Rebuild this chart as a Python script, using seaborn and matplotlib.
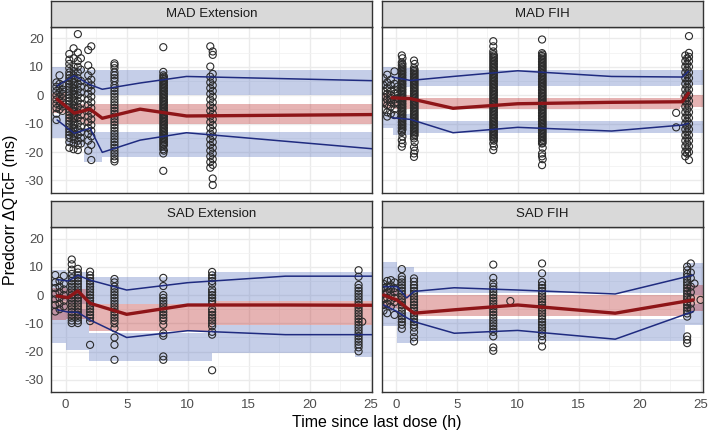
import numpy as np
import pandas as pd
import matplotlib
matplotlib.use("Agg")
import matplotlib.pyplot as plt
import seaborn as sns
from matplotlib.ticker import MultipleLocator

sns.set_theme(style="white")
plt.rcParams['font.family'] = ['Liberation Sans', 'DejaVu Sans']

panels = ["MAD Extension", "MAD FIH", "SAD Extension", "SAD FIH"]
x_ticks = [0, 5, 10, 15, 20, 25]
y_ticks = [-30, -20, -10, 0, 10, 20]

# ---------------- observed data: (time, [values]) per column ----------------
mad_ext_obs = [
    (-0.75, [4.5, 3.0, 1.5, 0.0, -1.5, -3.0, -4.5, -6.5, -8.7]),
    (-0.5, [7.0, 4.0, 2.5, 1.0, -0.5, -2.0, -3.5, -5.0]),
    (-0.25, [3.5, 2.0, 0.5, -1.0, -2.5, -4.0, -5.5]),
    (0.3, [14.5, 12.5, 11.0, 9.5, 8.0, 7.0, 6.0, 5.0, 4.0, 3.0, 2.0, 1.0, 0.0, -1.0, -2.0, -3.0, -4.0, -5.0,
           -6.0, -7.0, -8.0, -9.0, -10.0, -11.0, -12.0, -13.0, -14.0, -15.0, -16.5, -18.5]),
    (0.65, [16.5, 13.0, 10.0, 8.5, 7.0, 5.5, 4.5, 3.5, 2.5, 1.5, 0.5, -0.5, -1.5, -2.5, -3.5, -4.5, -5.5, -6.5,
            -7.5, -8.5, -9.5, -10.5, -11.5, -12.5, -13.5, -14.5, -15.5, -17.0, -19.0]),
    (1.0, [21.5, 15.0, 12.0, 10.0, 8.0, 6.0, 4.0, 2.0, 0.0, -2.0, -4.0, -6.0, -8.0, -10.0, -12.0, -14.0, -16.0,
           -17.5, -19.3]),
    (1.25, [13.0, 9.0, 5.0, 3.0, 1.0, -1.0, -3.0, -5.0, -7.0, -9.0, -11.0, -13.0, -15.0, -17.0]),
    (1.85, [15.9, 10.5, 7.0, 4.5, 2.5, 0.5, -1.5, -3.5, -5.5, -7.5, -9.5, -11.5, -13.5, -16.0, -19.5]),
    (2.1, [17.2, 8.5, 5.5, 3.5, 1.5, -0.5, -2.5, -4.5, -6.5, -8.5, -10.5, -12.5, -14.5, -17.5, -22.8]),
    (4.0, [11.2, 10.5, 9.5, 8.0, 7.0, 6.0, 5.0, 3.5, 2.5, 1.5, 0.5, -0.5, -1.5, -2.5, -3.5, -4.5, -5.5, -6.5,
           -7.5, -8.5, -9.5, -10.5, -11.5, -12.5, -13.5, -14.5, -15.5, -16.5, -17.5, -18.5, -19.5, -20.5,
           -21.5, -22.5, -23.3]),
    (8.0, [16.9, 8.2, 7.0, 6.0, 5.0, 4.0, 3.0, 2.0, 1.0, 0.0, -1.0, -2.0, -3.0, -4.0, -5.0, -6.0, -7.0, -8.0,
           -9.0, -10.0, -11.0, -12.0, -13.0, -14.0, -15.0, -16.0, -17.0, -18.0, -19.0, -20.5, -26.6]),
    (8.05, [6.5, 5.5, 4.5, 3.5, 2.5, 1.5, 0.5, -0.5, -1.5, -2.5, -3.5, -4.5, -5.5, -6.5, -7.5, -8.5, -9.5,
            -10.5, -11.5, -12.5, -13.5, -14.5, -15.5, -16.5, -17.5, -19.5]),
    (11.85, [17.2, 10.1, 6.5, 4.5, 2.5, 0.5, -1.5, -3.5, -5.5, -7.5, -9.5, -11.5, -13.5, -15.5, -17.5, -19.5,
             -21.5, -23.5, -25.5]),
    (12.05, [15.4, 14.2, 7.5, 5.5, 3.5, 1.5, -0.5, -2.5, -4.5, -6.5, -8.5, -10.5, -12.5, -14.5, -16.5, -18.5,
             -20.5, -22.5, -24.5, -29.3, -31.6]),
]
mad_fih_obs = [
    (-1.0, [6.0, 3.5, 1.5, -0.5, -2.5, -5.0]),
    (-0.7, [7.2, 4.5, 2.5, 0.5, -1.5, -3.5, -6.0, -7.5]),
    (-0.4, [5.5, 3.5, 1.5, 0.0, -1.0, -2.5, -4.0, -6.5]),
    (-0.1, [8.4, 4.0, 2.0, 0.5, -1.5, -3.0, -5.0, -7.0]),
    (0.15, [3.0, 1.0, -1.0, -2.5]),
    (0.5, [14.0, 11.5, 10.5, 9.5, 8.5, 7.5, 6.5, 5.5, 4.5, 3.5, 2.5, 1.5, 0.5, -0.5, -1.5, -2.5, -3.5, -4.5,
           -5.5, -6.5, -7.5, -8.5, -9.5, -10.5, -11.5, -12.5, -13.0, -15.8, -18.1]),
    (0.55, [13.0, 11.0, 10.0, 9.0, 8.0, 7.0, 6.0, 5.0, 4.0, 3.0, 2.0, 1.0, 0.0, -1.0, -2.0, -3.0, -4.0, -5.0,
            -6.0, -7.0, -8.0, -9.0, -10.0, -11.0, -12.0, -14.5, -17.0]),
    (1.5, [12.2, 9.6, 8.5, 7.5, 6.5, 5.5, 4.5, 3.5, 2.5, 1.5, 0.5, -0.5, -1.5, -2.5, -3.5, -4.5, -5.5, -6.5,
           -7.5, -8.5, -9.5, -10.5, -11.5, -12.5, -13.5, -14.5, -15.2, -18.3, -20.5, -21.7]),
    (1.55, [11.0, 9.0, 8.0, 7.0, 6.0, 5.0, 4.0, 3.0, 2.0, 1.0, 0.0, -1.0, -2.0, -3.0, -4.0, -5.0, -6.0, -7.0,
            -8.0, -9.0, -10.0, -11.0, -12.0, -13.0, -14.0, -16.5, -19.5]),
    (8.0, [19.0, 17.2, 15.4, 14.5, 13.5, 12.5, 11.5, 10.5, 9.5, 8.5, 7.5, 6.5, 5.5, 4.5, 3.5, 2.5, 1.5, 0.5,
           -0.5, -1.5, -2.5, -3.5, -4.5, -5.5, -6.5, -7.5, -8.5, -9.5, -10.5, -11.5, -12.5, -13.5, -14.5,
           -15.5, -17.0, -19.3]),
    (8.05, [14.0, 13.0, 12.0, 11.0, 10.0, 9.0, 8.0, 7.0, 6.0, 5.0, 4.0, 3.0, 2.0, 1.0, 0.0, -1.0, -2.0, -3.0,
            -4.0, -5.0, -6.0, -7.0, -8.0, -9.0, -10.0, -11.0, -12.0, -13.0, -14.0, -15.0, -16.0, -18.0]),
    (12.0, [19.6, 14.8, 13.8, 12.8, 11.8, 10.8, 9.8, 8.8, 7.8, 6.8, 5.8, 4.8, 3.8, 2.8, 1.8, 0.8, -0.2, -1.2,
            -2.2, -3.2, -4.2, -5.2, -6.2, -7.2, -8.2, -9.2, -10.2, -11.2, -12.2, -13.2, -14.2, -15.2, -16.2,
            -17.0, -20.5, -21.5, -24.6]),
    (12.05, [14.3, 13.3, 12.3, 11.3, 10.3, 9.3, 8.3, 7.3, 6.3, 5.3, 4.3, 3.3, 2.3, 1.3, 0.3, -0.7, -1.7, -2.7,
             -3.7, -4.7, -5.7, -6.7, -7.7, -8.7, -9.7, -10.7, -11.7, -12.7, -13.7, -14.7, -15.7, -16.7,
             -18.5, -22.5]),
    (23.0, [-6.2, -11.3]),
    (23.75, [14.0, 12.0, 10.0, 8.0, 6.0, 4.0, 2.0, 0.0, -2.0, -4.0, -6.0, -8.0, -10.0, -12.0, -14.0, -16.0,
             -18.0, -20.0, -21.5]),
    (23.9, [13.0, 11.0, 9.0, 7.0, 5.0, 3.0, 1.0, -1.0, -3.0, -5.0, -7.0, -9.0, -11.0, -13.0, -15.0, -17.0,
            -19.0, -20.5]),
    (24.05, [20.8, 14.9, 13.5, 12.0, 10.0, 8.0, 6.0, 4.0, 2.0, 0.0, -2.0, -4.0, -6.0, -8.0, -10.0, -12.0,
             -14.0, -16.0, -18.0, -20.0, -22.8]),
]
sad_ext_obs = [
    (-0.85, [7.1, 4.5, 2.5, 0.5, -1.5, -3.5, -5.8]),
    (-0.5, [5.0, 3.0, 1.0, -1.0, -3.0, -5.0]),
    (-0.15, [6.8, 4.0, 2.0, 0.0, -2.0, -4.0]),
    (0.5, [12.6, 10.9, 9.0, 7.5, 6.0, 5.0, 4.0, 3.0, 2.0, 1.0, 0.0, -1.0, -2.0, -3.0, -4.0, -5.0, -6.0, -7.0,
           -8.0, -9.0, -9.9]),
    (1.0, [9.3, 8.0, 7.0, 6.0, 5.0, 4.0, 3.0, 2.0, 1.0, 0.0, -1.0, -2.0, -3.0, -4.0, -5.0, -6.0, -7.0, -8.0,
           -9.0, -9.9]),
    (2.0, [8.3, 7.0, 6.0, 5.0, 4.0, 3.0, 2.0, 1.0, 0.0, -1.0, -2.0, -3.0, -4.0, -5.0, -6.0, -7.0, -8.0, -9.2,
           -17.6]),
    (4.0, [5.7, 4.5, 3.0, 2.0, 1.0, 0.0, -1.0, -2.0, -3.0, -4.0, -5.0, -6.0, -7.0, -8.0, -9.0, -10.0, -11.7,
           -15.0, -17.6, -22.9]),
    (8.0, [6.1, 3.2, 0.0, -1.0, -2.0, -3.0, -4.0, -5.0, -6.0, -7.0, -8.0, -9.0, -10.5, -13.5, -14.4, -21.7,
           -22.9]),
    (12.0, [8.2, 7.0, 6.0, 5.0, 4.0, 2.0, 1.0, 0.0, -1.0, -2.0, -3.0, -5.0, -6.0, -7.0, -8.0, -9.0, -10.0,
            -11.0, -13.0, -14.0, -26.6]),
    (24.0, [8.8, 6.5, 3.6, 2.5, 1.5, 0.5, -0.5, -1.5, -2.5, -3.5, -4.5, -5.5, -6.5, -7.5, -8.5, -9.5, -10.5,
            -11.5, -12.5, -13.5, -14.5, -15.5, -16.5, -17.5, -18.5, -19.9]),
    (24.3, [-9.4]),
]
sad_fih_obs = [
    (-1.0, [4.0, 2.5, 0.5, -1.5, -3.5, -5.5]),
    (-0.7, [5.0, 3.0, 1.0, -1.0, -3.0, -6.4]),
    (-0.4, [5.3, 3.5, 2.0, 0.0, -2.0, -4.0]),
    (-0.1, [4.5, 2.5, 1.0, -1.0, -2.5, -7.0]),
    (0.5, [9.2, 6.5, 5.5, 4.5, 3.5, 2.5, 1.5, 0.5, -0.5, -1.5, -2.5, -3.5, -4.5, -5.5, -6.5, -7.5, -8.5, -9.5,
           -10.5, -11.9]),
    (1.5, [5.9, 4.8, 3.5, 2.5, 1.5, 0.5, -0.5, -1.5, -2.5, -3.5, -4.5, -5.5, -6.5, -7.5, -8.5, -9.5, -10.5,
           -11.5, -13.1, -14.9, -16.4]),
    (8.0, [10.8, 6.1, 4.2, 3.0, 2.0, 1.0, 0.0, -1.0, -2.0, -3.0, -4.0, -5.0, -6.0, -7.0, -8.0, -9.0, -10.0,
           -11.0, -12.0, -13.0, -14.6, -18.5, -19.7]),
    (9.4, [-2.1]),
    (12.0, [11.2, 7.7, 4.7, 3.5, 2.5, 1.5, 0.5, -0.5, -1.5, -2.5, -3.5, -4.5, -5.5, -6.5, -7.5, -8.5, -9.5,
            -10.5, -11.5, -12.5, -13.5, -14.5, -16.0, -18.2]),
    (23.9, [10.1, 8.8, 7.5, 6.5, 5.5, 4.5, 3.5, 2.5, 1.5, 0.5, -0.5, -1.5, -2.5, -3.5, -4.5, -5.5, -6.5, -7.6,
            -14.6, -15.8, -17.0]),
    (24.2, [11.2, 8.0, 6.0, 3.0, 1.0, -1.0, -3.0, -5.0]),
    (24.5, [4.1]),
    (25.0, [-1.7]),
]

# ---------------- observed percentile lines ----------------
mad_ext_time = [-0.7, 0.7, 2.0, 3.0, 6.1, 9.9, 25.3]
mad_ext_p95 = [3.3, 6.9, 3.7, 2.1, 4.3, 6.6, 5.1]
mad_ext_p50 = [-1.4, -6.3, -4.9, -8.1, -4.9, -7.3, -6.8]
mad_ext_p05 = [-8.7, -13.4, -11.6, -20.1, -15.8, -13.2, -18.9]

mad_fih_time = [-0.3, 1.2, 4.7, 10.0, 17.7, 23.5, 24.0]
mad_fih_p95 = [6.4, 5.2, 6.6, 8.6, 6.6, 6.4, 8.4]
mad_fih_p50 = [-0.9, -1.2, -4.6, -3.0, -2.5, -2.3, 0.7]
mad_fih_p05 = [-7.9, -8.5, -13.2, -11.3, -12.6, -10.5, -9.9]

sad_ext_time = [-0.7, 0.2, 1.0, 2.0, 5.0, 10.0, 18.0, 25.3]
sad_ext_p95 = [5.5, 5.0, 7.0, 5.3, 1.8, 4.4, 6.7, 6.7]
sad_ext_p50 = [-0.3, -0.9, 1.5, -2.9, -6.8, -3.5, -3.5, -3.6]
sad_ext_p05 = [-5.2, -6.0, -6.1, -8.8, -15.0, -12.6, -14.0, -14.0]

sad_fih_time = [-1.0, 0.1, 0.9, 1.5, 4.8, 10.0, 18.0, 24.4]
sad_fih_p95 = [3.0, 3.0, -1.0, 1.3, 2.6, 1.8, 0.4, 7.1]
sad_fih_p50 = [0.0, -1.7, -4.5, -6.4, -5.2, -3.5, -6.4, -1.7]
sad_fih_p05 = [-3.5, -5.8, -8.0, -9.4, -13.5, -12.5, -15.6, -5.8]

# ---------------- simulated prediction intervals per bin ----------------
mad_ext_edges = [-1.3, 0.05, 1.5, 3.0, 25.5]
mad_ext_hi_lo = [0.7, 0.0, 0.0, 0.0]
mad_ext_hi_hi = [10.1, 9.5, 9.0, 9.0]
mad_ext_md_lo = [-6.3, -9.5, -10.0, -10.3]
mad_ext_md_hi = [0.7, -3.0, -3.0, -3.2]
mad_ext_lo_lo = [-15.2, -17.5, -23.5, -21.7]
mad_ext_lo_hi = [-6.9, -11.5, -13.0, -12.8]

mad_fih_edges = [-1.3, -0.2, 1.5, 23.3, 25.5]
mad_fih_hi_lo = [2.5, 2.8, 3.4, 3.5]
mad_fih_hi_hi = [10.1, 9.5, 8.7, 9.0]
mad_fih_md_lo = [-4.6, -4.8, -5.0, -4.3]
mad_fih_md_hi = [0.7, 0.0, -0.9, 0.0]
mad_fih_lo_lo = [-11.6, -14.1, -13.3, -13.4]
mad_fih_lo_hi = [-6.3, -6.5, -8.9, -9.0]

sad_ext_edges = [-1.3, 0.0, 1.9, 12.0, 23.7, 25.5]
sad_ext_hi_lo = [-2.0, -3.0, -3.0, -2.0, -2.0]
sad_ext_hi_hi = [8.8, 8.2, 6.5, 8.2, 8.2]
sad_ext_md_lo = [-8.8, -8.5, -12.8, -10.5, -10.5]
sad_ext_md_hi = [2.4, 2.0, -3.2, -2.1, -2.1]
sad_ext_lo_lo = [-17.0, -19.3, -23.4, -20.5, -22.0]
sad_ext_lo_hi = [-3.0, -5.0, -13.4, -10.5, -10.5]

sad_fih_edges = [-1.3, 0.1, 1.5, 23.7, 25.5]
sad_fih_hi_lo = [0.5, 0.5, 0.6, 0.0]
sad_fih_hi_hi = [11.8, 10.0, 8.3, 11.3]
sad_fih_md_lo = [-4.5, -5.0, -7.5, -5.7]
sad_fih_md_hi = [2.0, 0.5, 0.1, 3.6]
sad_fih_lo_lo = [-11.1, -17.0, -16.2, -10.5]
sad_fih_lo_hi = [-3.0, -6.0, -8.5, -3.0]

obs_sets = [mad_ext_obs, mad_fih_obs, sad_ext_obs, sad_fih_obs]
line_sets = [
    (mad_ext_time, mad_ext_p95, mad_ext_p50, mad_ext_p05),
    (mad_fih_time, mad_fih_p95, mad_fih_p50, mad_fih_p05),
    (sad_ext_time, sad_ext_p95, sad_ext_p50, sad_ext_p05),
    (sad_fih_time, sad_fih_p95, sad_fih_p50, sad_fih_p05),
]
band_sets = [
    (mad_ext_edges, mad_ext_hi_lo, mad_ext_hi_hi, mad_ext_md_lo, mad_ext_md_hi, mad_ext_lo_lo, mad_ext_lo_hi),
    (mad_fih_edges, mad_fih_hi_lo, mad_fih_hi_hi, mad_fih_md_lo, mad_fih_md_hi, mad_fih_lo_lo, mad_fih_lo_hi),
    (sad_ext_edges, sad_ext_hi_lo, sad_ext_hi_hi, sad_ext_md_lo, sad_ext_md_hi, sad_ext_lo_lo, sad_ext_lo_hi),
    (sad_fih_edges, sad_fih_hi_lo, sad_fih_hi_hi, sad_fih_md_lo, sad_fih_md_hi, sad_fih_lo_lo, sad_fih_lo_hi),
]

W, H = 709, 433
fig = plt.figure(figsize=(W / 100, H / 100), dpi=100)

# panel boxes in pixels: (left, top, right, bottom)
boxes = [(51, 27, 372, 193), (381.7, 27, 703, 193), (51, 227.3, 372, 392.3), (381.7, 227.3, 703, 392.3)]
strip_h = 26
xlims = [(-1.2, 25.1), (-1.15, 25.2), (-1.2, 25.1), (-1.15, 25.2)]
ylim = (-34.4, 24.0)

blue_fill = (0.35, 0.45, 0.75)
red_fill = (0.72, 0.15, 0.15)
blue_line = "#1F2B80"
red_line = "#8E1518"
grey_txt = "#4D4D4D"

for i, name in enumerate(panels):
    l, t, r, b = boxes[i]
    ax = fig.add_axes([l / W, 1 - b / H, (r - l) / W, (b - t) / H])
    sax = fig.add_axes([l / W, 1 - t / H, (r - l) / W, strip_h / H])
    ax.set_facecolor("white")
    ax.set_xlim(*xlims[i])
    ax.set_ylim(*ylim)
    ax.xaxis.set_major_locator(MultipleLocator(5))
    ax.xaxis.set_minor_locator(MultipleLocator(2.5))
    ax.yaxis.set_major_locator(MultipleLocator(10))
    ax.yaxis.set_minor_locator(MultipleLocator(5))
    ax.grid(which="major", color="#EBEBEB", linewidth=1.0, zorder=0)
    ax.grid(which="minor", color="#F2F2F2", linewidth=0.6, zorder=0)
    ax.set_axisbelow(True)

    # bands
    edges, hl, hh, ml, mh, ll, lh = band_sets[i]
    for lo, hi, col in [(hl, hh, blue_fill), (ll, lh, blue_fill), (ml, mh, red_fill)]:
        ax.fill_between(edges, list(lo) + [lo[-1]], list(hi) + [hi[-1]], step="post",
                        color=col, alpha=0.35, linewidth=0, zorder=1)

    # points
    rows = [(tt, v) for tt, vals in obs_sets[i] for v in vals]
    df = pd.DataFrame(rows, columns=["time", "value"])
    sns.scatterplot(data=df, x="time", y="value", ax=ax, marker="o", s=26,
                    facecolor="none", edgecolor="#2B2B2B", linewidth=0.8, zorder=3, legend=False)

    # lines
    tm, p95, p50, p05 = line_sets[i]
    ldf = pd.DataFrame({"time": tm, "p95": p95, "p50": p50, "p05": p05})
    sns.lineplot(data=ldf, x="time", y="p95", ax=ax, color=blue_line, linewidth=1.1,
                 estimator=None, sort=False, zorder=4)
    sns.lineplot(data=ldf, x="time", y="p05", ax=ax, color=blue_line, linewidth=1.1,
                 estimator=None, sort=False, zorder=4)
    sns.lineplot(data=ldf, x="time", y="p50", ax=ax, color=red_line, linewidth=2.4,
                 estimator=None, sort=False, zorder=5)

    ax.set_xlabel("")
    ax.set_ylabel("")
    ax.set_xticks(x_ticks)
    ax.set_yticks(y_ticks)
    ax.tick_params(axis="both", which="major", direction="out", length=3, width=0.8,
                   color="#333333", labelsize=9.5, labelcolor=grey_txt, pad=2)
    ax.tick_params(axis="both", which="minor", length=0)
    if i in (0, 2):
        ax.set_yticklabels([str(v) for v in y_ticks])
    else:
        ax.set_yticklabels([])
        ax.tick_params(axis="y", which="major", length=0)
    if i in (2, 3):
        ax.set_xticklabels([str(v) for v in x_ticks])
    else:
        ax.set_xticklabels([])
        ax.tick_params(axis="x", which="major", length=0)
    for sp in ax.spines.values():
        sp.set_visible(True)
        sp.set_color("#333333")
        sp.set_linewidth(1.0)

    # strip
    sax.set_facecolor("#D9D9D9")
    sax.set_xticks([])
    sax.set_yticks([])
    for sp in sax.spines.values():
        sp.set_visible(True)
        sp.set_color("#333333")
        sp.set_linewidth(1.0)
    sax.text(0.5, 0.5, name, ha="center", va="center", fontsize=9.5, color="#1A1A1A",
             transform=sax.transAxes)

fig.text(377 / W, 1 - 422 / H, "Time since last dose (h)", ha="center", va="center", fontsize=11.5,
         color="black")
fig.text(11 / W, 1 - 210 / H, "Predcorr ΔQTcF (ms)", ha="center", va="center", rotation=90,
         fontsize=11.5, color="black")

fig.savefig("out.png", dpi=100)
